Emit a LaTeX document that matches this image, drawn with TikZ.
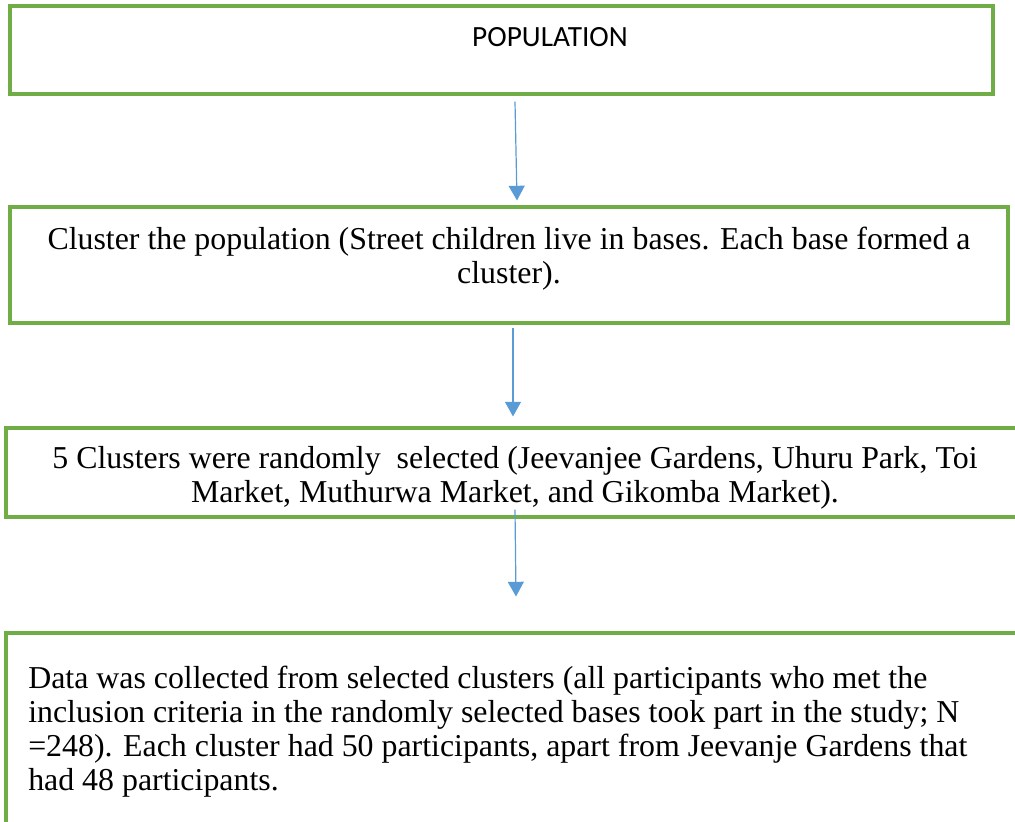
\documentclass[tikz,border=0pt]{standalone}
\usepackage{fontspec}
\setmainfont{Liberation Serif}
\newfontfamily\carlito{Carlito}
\usetikzlibrary{calc,arrows.meta}

\definecolor{boxgreen}{HTML}{70AD47}
\definecolor{arrowblue}{HTML}{5B9BD5}

\begin{document}
\begin{tikzpicture}[x=0.75pt, y=-0.75pt,
  stagebox/.style={draw=boxgreen, line width=2.3pt, rectangle, inner sep=0pt},
  stagetext/.style={inner sep=0pt, font=\fontsize{23.9}{25.5}\selectfont},
  flow/.style={draw=arrowblue, line width=0.9pt, -{Triangle[width=12pt,length=11pt]}}]

\clip (0,0) rectangle (1015,822);

% Define the stage boxes
\node[stagebox, minimum width=737.25pt, minimum height=66pt] (pop) at (501.5,50) {};
\node[stagebox, minimum width=748.5pt, minimum height=87pt] (clus) at (509,265) {};
\node[stagebox, minimum width=764.25pt, minimum height=66.75pt] (sel) at (515.5,472.5) {};
\node[stagebox, minimum width=764.25pt, minimum height=151.5pt] (data) at (515.5,734) {};

% Define the texts inside the boxes
\node[inner sep=0pt, font=\carlito\fontsize{22}{26}\selectfont] (poptext) at (550,37) {POPULATION};
\node[stagetext, align=center] (clustext) at (509,259)
  {Cluster the population (Street children live in bases. Each base formed a\\cluster).};
\node[stagetext, align=center] (seltext) at (515,478)
  {5 Clusters were randomly\ \ selected (Jeevanjee Gardens, Uhuru Park, Toi\\Market, Muthurwa Market, and Gikomba Market).};
\node[stagetext, align=left, anchor=west] (datatext) at (28,732)
  {Data was collected from selected clusters (all participants who met the\\
   inclusion criteria in the randomly selected bases took part in the study; N\\
   =248). Each cluster had 50 participants, apart from Jeevanje Gardens that\\
   had 48 participants.};

% Connect the boxes
\draw[flow] ($(pop.south)+(13.5,6)$) -- ($(clus.north)+(8,-5)$);
\draw[flow] ($(clus.south)+(4,3)$) -- ($(sel.north)+(-2.5,-10)$);
\draw[flow] ($(sel.south)+(-0.5,-9)$) -- ($(data.north)+(0.5,-35)$);

\end{tikzpicture}
\end{document}
